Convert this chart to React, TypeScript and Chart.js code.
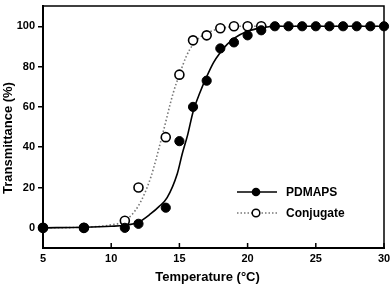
import React, { useEffect, useRef } from "react";
import { Chart, registerables } from "chart.js";

Chart.register(...registerables);

// Measured points
const pdmapsTemp = [5, 8, 11, 12, 14, 15, 16, 17, 18, 19, 20, 21, 22, 23, 24, 25, 26, 27, 28, 29, 30];
const pdmapsValues = [0, 0, 0, 2, 10, 43, 60, 73, 89, 92, 95.5, 98, 100, 100, 100, 100, 100, 100, 100, 100, 100];

const conjugateTemp = [5, 8, 11, 12, 14, 15, 16, 17, 18, 19, 20, 21];
const conjugateValues = [0, 0, 3.5, 20, 45, 76, 93, 95.5, 99, 100, 100, 100];

// Fitted curves
const pdmapsFitTemp = [5, 8, 10, 11, 12, 12.9, 13.5, 14.1, 14.85, 15.2, 15.6, 16, 16.5, 17, 17.5, 18, 18.5, 19, 20, 21, 22, 25, 30];
const pdmapsFitValues = [0, 0.3, 0.8, 1.3, 2.8, 7, 10.5, 15, 27, 36.5, 46, 57.5, 67, 75, 82, 87, 91, 94, 97.5, 99.2, 100, 100, 100];

const conjugateFitTemp = [5, 8, 10, 11, 12, 12.9, 13.75, 14.55, 15, 15.5, 16, 16.5, 17.5, 18.5, 19.5, 21, 22, 30];
const conjugateFitValues = [0, 0.3, 1.5, 3.5, 11, 25, 46, 67, 76, 85, 91, 94.5, 98, 99.5, 100, 100, 100, 100];

const xTickValues = [5, 10, 15, 20, 25, 30];
const yTickValues = [0, 20, 40, 60, 80, 100];

const xTitle = "Temperature (°C)";
const yTitle = "Transmittance (%)";
const seriesNames = ["PDMAPS", "Conjugate"];

const FONT = '"Liberation Sans", Arial, Helvetica, sans-serif';

const zip = (xs: number[], ys: number[]) => xs.map((x, i) => ({ x, y: ys[i] }));

export default function App() {
  const ref = useRef<HTMLCanvasElement>(null);

  useEffect(() => {
    if (!ref.current) return;

    const framePlugin = {
      id: "frame",
      afterDraw(chart: any) {
        const { ctx, chartArea } = chart;
        const { left, right, top, bottom } = chartArea;
        ctx.save();
        ctx.strokeStyle = "#000";
        ctx.lineWidth = 1.5;
        ctx.beginPath();
        ctx.moveTo(left, top);
        ctx.lineTo(right, top);
        ctx.lineTo(right, bottom);
        ctx.stroke();
        // inward x ticks
        const xs = chart.scales.x;
        ctx.lineWidth = 1.5;
        ctx.beginPath();
        xTickValues.forEach((v) => {
          const px = xs.getPixelForValue(v);
          ctx.moveTo(px, bottom);
          ctx.lineTo(px, bottom - 5);
        });
        ctx.stroke();

        // axis titles
        ctx.fillStyle = "#000";
        ctx.font = `bold 13px ${FONT}`;
        ctx.textAlign = "center";
        ctx.textBaseline = "middle";
        ctx.fillText(xTitle, (left + right) / 2 - 6, bottom + 29);
        ctx.save();
        ctx.translate(left - 35, (top + bottom) / 2 + 11);
        ctx.rotate(-Math.PI / 2);
        ctx.fillText(yTitle, 0, 0);
        ctx.restore();

        // legend
        const lx0 = right - 147;
        const lx1 = right - 107;
        const lcx = right - 128;
        const tx = right - 98;
        const rows = [bottom - 56, bottom - 35];
        ctx.font = `bold 12px ${FONT}`;
        ctx.textAlign = "left";
        rows.forEach((ly, i) => {
          ctx.save();
          ctx.beginPath();
          if (i === 0) {
            ctx.strokeStyle = "#000";
            ctx.lineWidth = 1.5;
            ctx.setLineDash([]);
          } else {
            ctx.strokeStyle = "#777";
            ctx.lineWidth = 1.5;
            ctx.setLineDash([1.5, 2]);
          }
          ctx.moveTo(lx0, ly);
          ctx.lineTo(lx1, ly);
          ctx.stroke();
          ctx.setLineDash([]);
          ctx.beginPath();
          ctx.arc(lcx, ly, i === 0 ? 4.3 : 3.8, 0, Math.PI * 2);
          if (i === 0) {
            ctx.fillStyle = "#000";
            ctx.fill();
          } else {
            ctx.fillStyle = "#fff";
            ctx.fill();
            ctx.strokeStyle = "#000";
            ctx.lineWidth = 1.5;
            ctx.stroke();
          }
          ctx.restore();
          ctx.fillStyle = "#000";
          ctx.fillText(seriesNames[i], tx, ly + 0.5);
        });
        ctx.restore();
      },
    };

    const chart = new Chart(ref.current, {
      type: "scatter",
      data: {
        datasets: [
          {
            label: seriesNames[0],
            data: zip(pdmapsTemp, pdmapsValues),
            showLine: false,
            pointRadius: 4.6,
            pointBackgroundColor: "#000",
            pointBorderColor: "#000",
            pointBorderWidth: 1,
            clip: false,
          },
          {
            label: seriesNames[1],
            data: zip(conjugateTemp, conjugateValues),
            showLine: false,
            pointRadius: 4.5,
            pointBackgroundColor: "#fff",
            pointBorderColor: "#000",
            pointBorderWidth: 1.6,
            clip: false,
          },
          {
            label: "PDMAPS fit",
            data: zip(pdmapsFitTemp, pdmapsFitValues),
            showLine: true,
            pointRadius: 0,
            borderColor: "#000",
            borderWidth: 1.6,
            cubicInterpolationMode: "monotone",
            fill: false,
          },
          {
            label: "Conjugate fit",
            data: zip(conjugateFitTemp, conjugateFitValues),
            showLine: true,
            pointRadius: 0,
            borderColor: "#777",
            borderWidth: 1.6,
            borderDash: [1.5, 2.2],
            cubicInterpolationMode: "monotone",
            fill: false,
          },
        ] as any,
      },
      options: {
        animation: false,
        responsive: false,
        devicePixelRatio: 1,
        layout: { padding: { top: 2, right: 8, left: 0, bottom: 0 } },
        plugins: {
          legend: { display: false },
          tooltip: { enabled: false },
        },
        scales: {
          x: {
            type: "linear",
            min: 5,
            max: 30,
            afterBuildTicks: (scale: any) => {
              scale.ticks = xTickValues.map((v) => ({ value: v }));
            },
            afterFit: (scale: any) => {
              scale.height = 39;
              scale.paddingLeft = 0;
              scale.paddingRight = 0;
            },
            grid: { display: false, drawTicks: false, tickLength: 0 },
            border: { display: true, color: "#000", width: 2 },
            ticks: {
              color: "#000",
              padding: 4,
              font: { family: FONT, size: 11, weight: "bold" },
              maxRotation: 0,
            },
          },
          y: {
            type: "linear",
            min: -10,
            max: 110,
            afterBuildTicks: (scale: any) => {
              scale.ticks = yTickValues.map((v) => ({ value: v }));
            },
            afterFit: (scale: any) => {
              scale.width = 43;
              scale.paddingTop = 0;
              scale.paddingBottom = 0;
            },
            grid: {
              drawOnChartArea: false,
              drawTicks: true,
              tickLength: 5,
              color: "#000",
              lineWidth: 1.5,
            },
            border: { display: true, color: "#000", width: 2 },
            ticks: {
              color: "#000",
              padding: 3,
              font: { family: FONT, size: 11, weight: "bold" },
            },
          },
        },
      } as any,
      plugins: [framePlugin],
    });

    return () => chart.destroy();
  }, []);

  return (
    <div style={{ position: "absolute", left: 0, top: 0, width: 392, height: 287, background: "#fff" }}>
      <canvas ref={ref} width={392} height={287} style={{ display: "block" }} />
    </div>
  );
}
